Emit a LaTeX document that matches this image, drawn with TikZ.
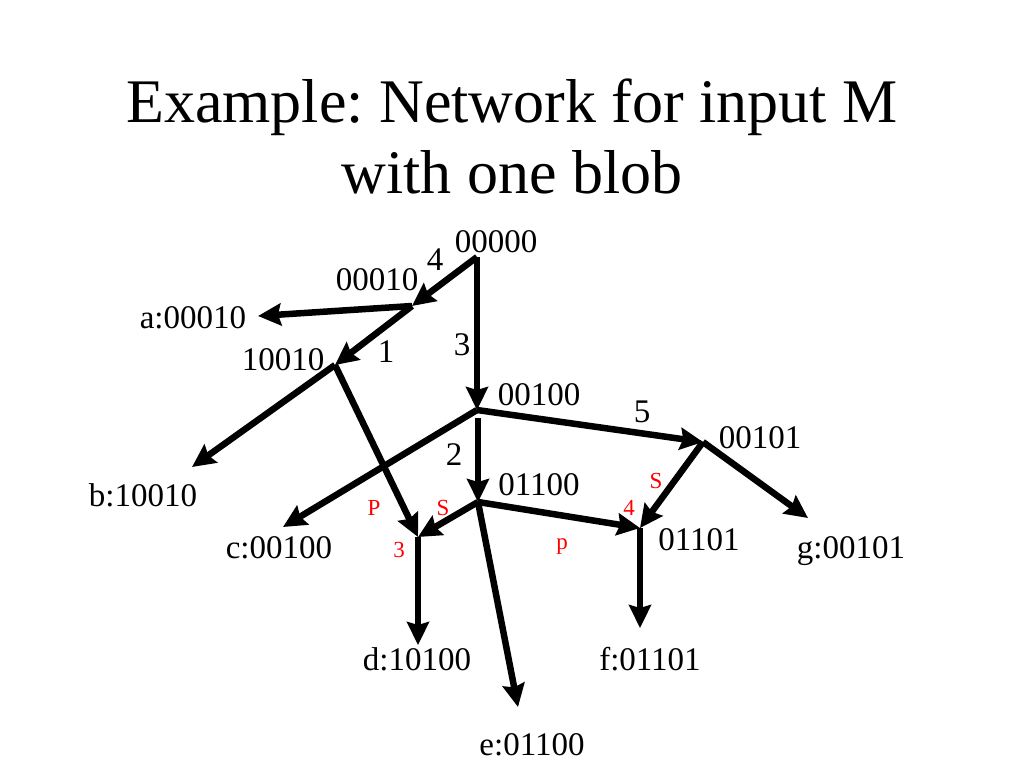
\documentclass[tikz,border=0pt]{standalone}
\usepackage{fontspec}
\setmainfont{Liberation Serif}
\usetikzlibrary{arrows.meta}
\frenchspacing
\begin{document}
\begin{tikzpicture}[x=1pt,y=-1pt,
  edge/.style={line width=6.5pt,-{Stealth[length=23pt,width=22pt,inset=3pt]}},
  lbl/.style={anchor=base,inner sep=0pt,font=\fontsize{33}{36}\selectfont},
  red/.style={anchor=base,inner sep=0pt,text=red,font=\fontsize{23}{25}\selectfont},
  title/.style={anchor=base,inner sep=0pt,font=\fontsize{62}{72}\selectfont}]
\useasboundingbox (0,0) rectangle (1024,768);
% title
\node[title] (t1) at (512,122) {Example: Network for input M};
\node[title] (t2) at (512,193) {with one blob};
% junctions
\coordinate (n0) at (477,257);
\coordinate (n1) at (412,306);
\coordinate (na) at (258,316);
\coordinate (n2) at (335,365);
\coordinate (nb) at (192,467);
\coordinate (n3) at (477,410);
\coordinate (n3b) at (478,418);
\coordinate (nc) at (283,527);
\coordinate (n4) at (478,502);
\coordinate (n5) at (418,537);
\coordinate (nd) at (418,645);
\coordinate (ne) at (518,707);
\coordinate (n6) at (703,442);
\coordinate (ng) at (808,518);
\coordinate (n7) at (640,528);
\coordinate (nf) at (640,628);
% edges
\draw[edge] (n0) -- (n1);
\draw[edge] (n1) -- (na);
\draw[edge] (n1) -- (n2);
\draw[edge] (n0) -- (n3);
\draw[edge] (n2) -- (nb);
\draw[edge] (n2) -- (n5);
\draw[edge] (n3) -- (nc);
\draw[edge] (n3b) -- (n4);
\draw[edge] (n3) -- (n6);
\draw[edge] (n4) -- (n5);
\draw[edge] (n4) -- (n7);
\draw[edge] (n4) -- (ne);
\draw[edge] (n6) -- (n7);
\draw[edge] (n6) -- (ng);
\draw[edge] (n5) -- (nd);
\draw[edge] (n7) -- (nf);
% labels
\node[lbl] (l00000) at (496,252) {00000};
\node[lbl] (e4) at (435,270) {4};
\node[lbl] (l00010) at (377,290) {00010};
\node[lbl] (e1) at (386,362) {1};
\node[lbl] (l10010) at (283,370) {10010};
\node[lbl] (e3) at (462,355) {3};
\node[lbl] (la) at (193,328) {a:00010};
\node[lbl] (l00100) at (539,405) {00100};
\node[lbl] (lb) at (143,506) {b:10010};
\node[lbl] (e2) at (454,465) {2};
\node[lbl] (l01100) at (539,495) {01100};
\node[lbl] (lc) at (279,558) {c:00100};
\node[lbl] (e5) at (642,422) {5};
\node[lbl] (l00101) at (760,448) {00101};
\node[lbl] (l01101) at (699,550) {01101};
\node[lbl] (lg) at (851,558) {g:00101};
\node[lbl] (ld) at (417,670) {d:10100};
\node[lbl] (lf) at (650,670) {f:01101};
\node[lbl] (le) at (532,755) {e:01100};
% red labels
\node[red] (rP) at (374,515) {P};
\node[red] (rS1) at (443,515) {S};
\node[red] (r3) at (399,557) {3};
\node[red] (rp) at (562,549) {p};
\node[red] (rS2) at (656,488) {S};
\node[red] (r4) at (629,515) {4};
\end{tikzpicture}
\end{document}
